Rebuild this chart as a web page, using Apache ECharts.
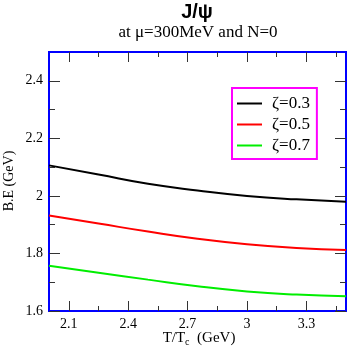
<!DOCTYPE html>
<html><head><meta charset="utf-8">
<script src="https://cdn.jsdelivr.net/npm/echarts@6/dist/echarts.min.js"></script>
<style>html,body{margin:0;padding:0;background:#fff}#c{width:349px;height:349px}</style>
</head><body><div id="c"></div>
<script>
const temps = [2.0, 2.25, 2.5, 2.75, 3.0, 3.25, 3.5];
const zeta03 = [2.106, 2.074, 2.042, 2.019, 2.000, 1.988, 1.980];
const zeta05 = [1.932, 1.904, 1.876, 1.851, 1.832, 1.819, 1.812];
const zeta07 = [1.757, 1.733, 1.709, 1.686, 1.668, 1.657, 1.651];
const seriesNames = ['ζ=0.3', 'ζ=0.5', 'ζ=0.7'];
const xMajor = [2.1, 2.4, 2.7, 3.0, 3.3];
const xMinor = [2.25, 2.55, 2.85, 3.15, 3.45];
const yMajor = [1.6, 1.8, 2.0, 2.2, 2.4];
const yMinor = [1.7, 1.9, 2.1, 2.3];
const titleText = 'J/ψ';
const subtitleText = 'at μ=300MeV and N=0';
const yName = 'B.E (GeV)';

const serif = 'Liberation Serif';
const chart = echarts.init(document.getElementById('c'), null, {renderer: 'canvas'});
const tickStyle = {color: '#333', width: 1};
function xAx(pos, vals, len, labels) {
  return {
    type: 'value', position: pos, min: 2.0, max: 3.5,
    axisLine: {show: false}, splitLine: {show: false},
    axisTick: {show: true, inside: true, length: len, customValues: vals, lineStyle: tickStyle},
    axisLabel: labels ? {show: true, customValues: vals, margin: 6, color: '#000', fontFamily: serif, fontSize: 14,
      formatter: v => String(Math.round(v * 10) / 10)} : {show: false}
  };
}
function yAx(pos, vals, len, labels) {
  return {
    type: 'value', position: pos, min: 1.6, max: 2.5,
    axisLine: {show: false}, splitLine: {show: false},
    axisTick: {show: true, inside: true, length: len, customValues: vals, lineStyle: tickStyle},
    axisLabel: labels ? {show: true, customValues: vals, margin: 6, color: '#000', fontFamily: serif, fontSize: 14,
      formatter: v => String(Math.round(v * 10) / 10)} : {show: false}
  };
}

const colors = ['#000000', '#ff0000', '#00ee00'];
const datas = [zeta03, zeta05, zeta07];
chart.setOption({
  animation: false,
  grid: {left: 49, right: 3, top: 52, bottom: 38, containLabel: false, outerBoundsMode: 'none',
    show: true, borderColor: '#0000ff', borderWidth: 2, backgroundColor: 'transparent'},
  xAxis: [xAx('bottom', xMajor, 10, true), xAx('bottom', xMinor, 5, false), xAx('top', xMajor, 10, false), xAx('top', xMinor, 5, false)],
  yAxis: [yAx('left', yMajor, 11, true), yAx('left', yMinor, 6, false), yAx('right', yMajor, 11, false), yAx('right', yMinor, 6, false)],
  legend: {
    orient: 'vertical', left: 232, top: 88, padding: [7, 7, 5, 5],
    borderColor: '#ff00ff', borderWidth: 2, backgroundColor: '#fff',
    icon: 'rect', itemWidth: 25, itemHeight: 2, itemGap: 4,
    textStyle: {fontFamily: serif, fontSize: 17, color: '#000', lineHeight: 15, padding: [0, 0, 0, 5]},
    data: seriesNames
  },
  graphic: [
    {type: 'text', x: 197, y: 12, style: {text: titleText, font: 'bold 20px "Liberation Sans"', fill: '#000', textAlign: 'center', textVerticalAlign: 'middle'}},
    {type: 'text', x: 198, y: 33, style: {text: subtitleText, font: '17px "Liberation Serif"', fill: '#000', textAlign: 'center', textVerticalAlign: 'middle'}},
    {type: 'text', x: 9, y: 181, rotation: Math.PI / 2, style: {text: yName, font: '14px "Liberation Serif"', fill: '#000', textAlign: 'center', textVerticalAlign: 'middle'}},
    {type: 'text', x: 199, y: 338, style: {
      text: '{a|T/T}{s|c}{a|  (GeV)}', textAlign: 'center', textVerticalAlign: 'middle',
      rich: {
        a: {fontFamily: serif, fontSize: 15, fill: '#000', color: '#000', lineHeight: 18},
        s: {fontFamily: serif, fontSize: 10, fill: '#000', color: '#000', lineHeight: 18, verticalAlign: 'bottom', padding: [8, 0, 0, 0]}
      }
    }}
  ],
  series: datas.map((d, i) => ({
    name: seriesNames[i], type: 'line', smooth: true, symbol: 'none',
    xAxisIndex: 0, yAxisIndex: 0,
    lineStyle: {color: colors[i], width: 2}, itemStyle: {color: colors[i]},
    data: temps.map((t, j) => [t, d[j]])
  }))
});
</script></body></html>
